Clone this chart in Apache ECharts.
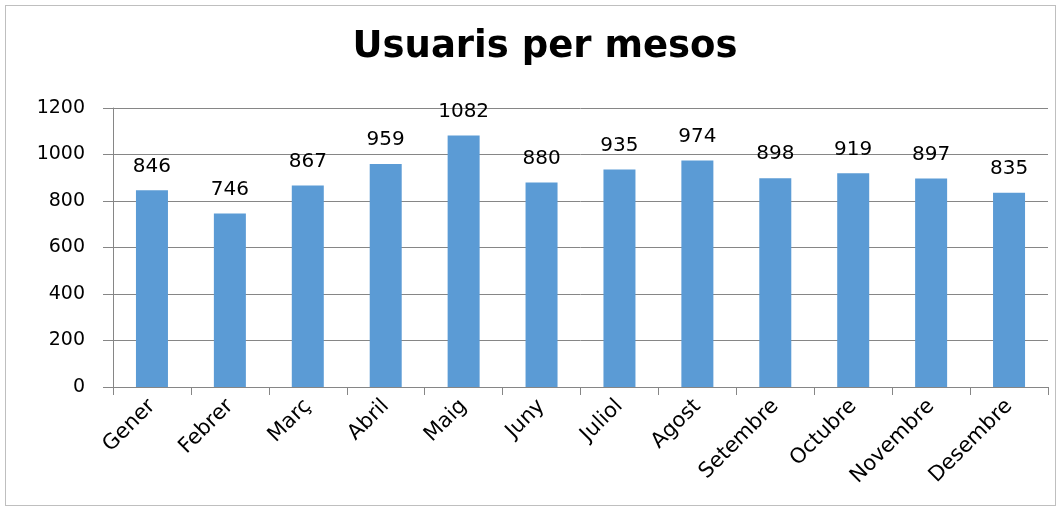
<!DOCTYPE html>
<html lang="ca">
<head>
<meta charset="utf-8">
<title>Usuaris per mesos</title>
<script src="https://cdn.jsdelivr.net/npm/echarts@6/dist/echarts.min.js"></script>
<style>
  html, body { margin: 0; padding: 0; background: #fff; }
  #chart { width: 1062px; height: 512px; box-sizing: border-box; }
  .frame { position: absolute; left: 5px; top: 5px; width: 1051px; height: 501px; border: 1px solid #bfbfbf; box-sizing: border-box; pointer-events: none; }
</style>
</head>
<body>
<div id="chart"></div>
<div class="frame"></div>
<script type="text/javascript">
  // dades llegides del grafic
  let mesos = ['Gener', 'Febrer', 'Març', 'Abril', 'Maig', 'Juny', 'Juliol', 'Agost', 'Setembre', 'Octubre', 'Novembre', 'Desembre'];
  let usuaris = [846, 746, 867, 959, 1082, 880, 935, 974, 898, 919, 897, 835];
  let yMin = 0, yMax = 1200, yStep = 200;

  let font = '"DejaVu Sans", Verdana, sans-serif';
  let Chart = echarts.init(document.getElementById('chart'));

  let option = {
    animation: false,
    title: {
      text: 'Usuaris per mesos',
      left: 540,
      textAlign: 'center',
      top: 24,
      textStyle: { fontFamily: font, fontSize: 37, fontWeight: 'bold', color: '#000' }
    },
    grid: { left: 113, right: 14, top: 108, bottom: 125 },
    xAxis: {
      type: 'category',
      data: mesos,
      axisLine: { lineStyle: { color: '#868686', width: 1 } },
      axisTick: { show: true, length: 8, lineStyle: { color: '#868686' } },
      axisLabel: {
        interval: 0,
        rotate: 45,
        margin: 16,
        fontFamily: font,
        fontSize: 21,
        color: '#000'
      }
    },
    yAxis: {
      type: 'value',
      min: yMin,
      max: yMax,
      interval: yStep,
      axisLine: { show: true, lineStyle: { color: '#868686', width: 1 } },
      axisTick: { show: true, length: 10, lineStyle: { color: '#868686' } },
      splitLine: { show: true, lineStyle: { color: '#868686', width: 1 } },
      axisLabel: {
        margin: 28,
        fontFamily: font,
        fontSize: 19,
        color: '#000',
        formatter: function (v) { return String(v); }
      }
    },
    series: [{
      name: 'Usuaris',
      type: 'bar',
      data: usuaris,
      barWidth: 32,
      itemStyle: { color: '#5b9bd5' },
      label: {
        show: true,
        position: 'top',
        distance: 14,
        fontFamily: font,
        fontSize: 20,
        color: '#000'
      }
    }]
  };

  Chart.setOption(option);
</script>
</body>
</html>
